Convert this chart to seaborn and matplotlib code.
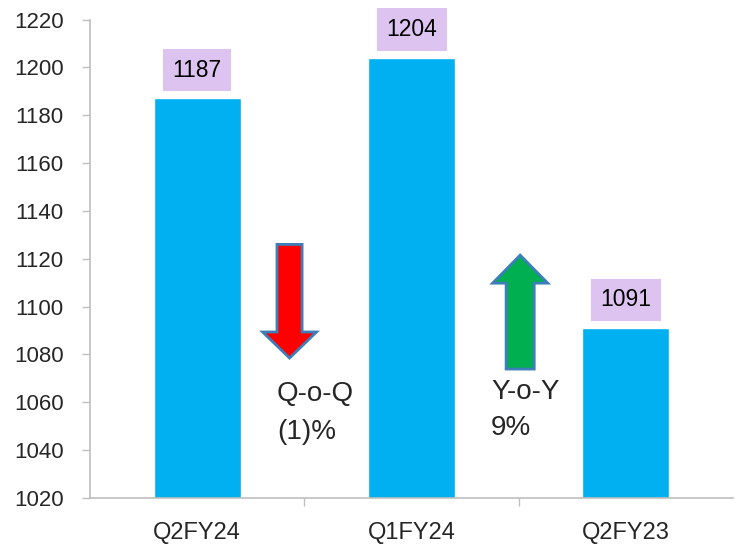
import matplotlib
matplotlib.use("Agg")
import matplotlib.pyplot as plt
import seaborn as sns
import pandas as pd
from matplotlib.patches import FancyArrow
from matplotlib.ticker import FixedLocator

categories = ["Q2FY24", "Q1FY24", "Q2FY23"]
values = [1187, 1204, 1091]
yticks = [1020, 1040, 1060, 1080, 1100, 1120, 1140, 1160, 1180, 1200, 1220]
qoq_text = ["Q-o-Q", "(1)%"]
yoy_text = ["Y-o-Y", "9%"]

sns.set_style("white")
plt.rcParams["font.family"] = ["Liberation Sans", "DejaVu Sans"]

df = pd.DataFrame({"period": categories, "value": values})

fig = plt.figure(figsize=(7.35, 5.47), dpi=100)
ax = fig.add_axes([90 / 735, 1 - 498 / 547, (733 - 90) / 735, (498 - 19.5) / 547])

sns.barplot(data=df, x="period", y="value", color="#00B0F0", width=0.405,
            saturation=1, ax=ax)

ax.set_ylim(1020, 1220)
ax.set_xlim(-0.5, 2.5)
ax.set_xlabel("")
ax.set_ylabel("")
ax.set_yticks(yticks)
ax.set_yticklabels([str(t) for t in yticks], fontsize=16)
ax.tick_params(axis="y", length=6, width=1, color="#BFBFBF", pad=13, direction="out", left=True)
ax.set_xticks(range(len(categories)))
ax.set_xticklabels(categories, fontsize=17)
ax.tick_params(axis="x", which="major", length=0, pad=17)
ax.xaxis.set_minor_locator(FixedLocator([0.5, 1.5]))
ax.tick_params(axis="x", which="minor", length=6, width=1, color="#BFBFBF", direction="out", bottom=True)

for s in ["top", "right"]:
    ax.spines[s].set_visible(False)
for s in ["left", "bottom"]:
    ax.spines[s].set_color("#BFBFBF")
    ax.spines[s].set_linewidth(1.2)

# value labels with lavender boxes
for i, v in enumerate(values):
    ax.annotate(str(v), xy=(i, v), xytext=(0, 12), textcoords="offset points",
                ha="center", va="bottom", fontsize=16.5, color="black",
                bbox=dict(boxstyle="square,pad=0.42", fc="#DCC3F0", ec="none"))

# change arrows
edge = "#3C7DBA"
ax.add_patch(FancyArrow(0.431, 1126, 0, 1078.5 - 1126, width=0.117, head_width=0.252,
                        head_length=10.9, length_includes_head=True,
                        fc="#FF0000", ec=edge, lw=2, zorder=5))
ax.add_patch(FancyArrow(1.507, 1073.9, 0, 1121.5 - 1073.9, width=0.131, head_width=0.257,
                        head_length=11.7, length_includes_head=True,
                        fc="#00B050", ec=edge, lw=2, zorder=5))

ax.text(0.373, 1063.4, qoq_text[0], fontsize=20, ha="left", va="center")
ax.text(0.373, 1047.6, qoq_text[1], fontsize=20, ha="left", va="center")
ax.text(1.371, 1064.3, yoy_text[0], fontsize=20, ha="left", va="center")
ax.text(1.371, 1049.2, yoy_text[1], fontsize=20, ha="left", va="center")

fig.savefig("out.png", dpi=100)
